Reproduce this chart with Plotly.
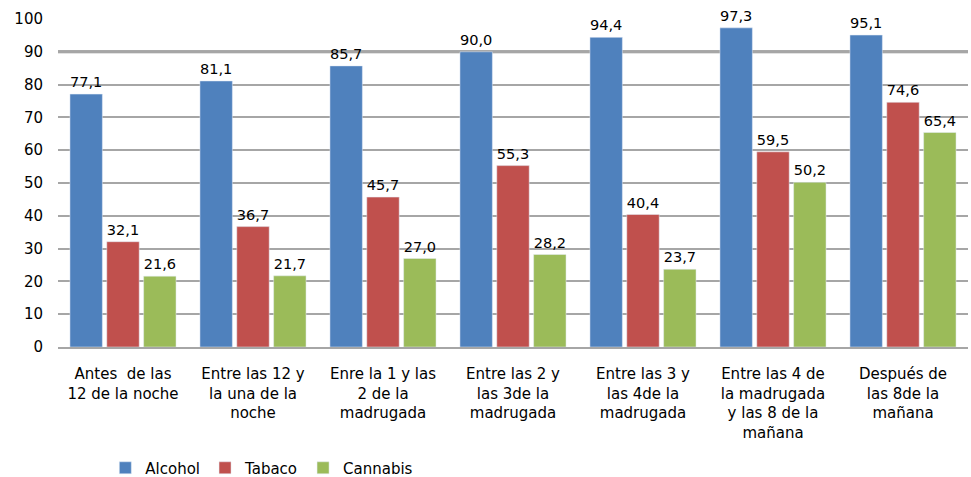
import plotly.graph_objects as go

categories = [
    "Antes  de las<br>12 de la noche",
    "Entre las 12 y<br>la una de la<br>noche",
    "Enre la 1 y las<br>2 de la<br>madrugada",
    "Entre las 2 y<br>las 3de la<br>madrugada",
    "Entre las 3 y<br>las 4de la<br>madrugada",
    "Entre las 4 de<br>la madrugada<br>y las 8 de la<br>mañana",
    "Después de<br>las 8de la<br>mañana",
]
alcohol = [77.1, 81.1, 85.7, 90.0, 94.4, 97.3, 95.1]
tabaco = [32.1, 36.7, 45.7, 55.3, 40.4, 59.5, 74.6]
cannabis = [21.6, 21.7, 27.0, 28.2, 23.7, 50.2, 65.4]
y_ticks = [0, 10, 20, 30, 40, 50, 60, 70, 80, 90, 100]

font_family = "DejaVu Sans, sans-serif"

fig = go.Figure()
for name, vals, color in [("Alcohol", alcohol, "#4F81BD"),
                          ("Tabaco", tabaco, "#C0504D"),
                          ("Cannabis", cannabis, "#9BBB59")]:
    fig.add_trace(go.Bar(
        name=name, x=categories, y=vals, marker_color=color,
        text=vals, texttemplate="%{y:.1f}", textposition="outside",
        textfont=dict(size=15, color="#000000", family=font_family),
        cliponaxis=False,
    ))

fig.update_layout(
    width=971, height=477,
    margin=dict(l=58, r=3, t=19, b=130, autoexpand=False),
    paper_bgcolor="white", plot_bgcolor="white",
    barmode="group", bargap=0.15, bargroupgap=0.12,
    separators=",.",
    font=dict(family=font_family, size=15, color="#000000"),
    showlegend=True,
    legend=dict(orientation="h", x=0.052, y=-0.369, xanchor="left", yanchor="middle",
                font=dict(size=15), traceorder="normal"),
    yaxis=dict(range=[0, 100], tickvals=y_ticks, showgrid=True,
               gridcolor="#a6a6a6", gridwidth=2, zeroline=False,
               showline=False, ticks="", ticklabelstandoff=14,
               tickfont=dict(size=15), automargin=False),
    xaxis=dict(showline=True, linecolor="#a6a6a6", linewidth=2,
               ticks="", tickfont=dict(size=15), tickangle=0,
               ticklabelstandoff=12, automargin=False),
)
fig.add_shape(type="line", xref="paper", yref="y", x0=0, x1=1, y0=90, y1=90,
              line=dict(color="#8c8c8c", width=3), layer="below")

fig.write_html("out.html", config={"displayModeBar": False},
               post_script="document.body.style.margin='0';document.body.style.padding='0';document.body.style.overflow='hidden';")
